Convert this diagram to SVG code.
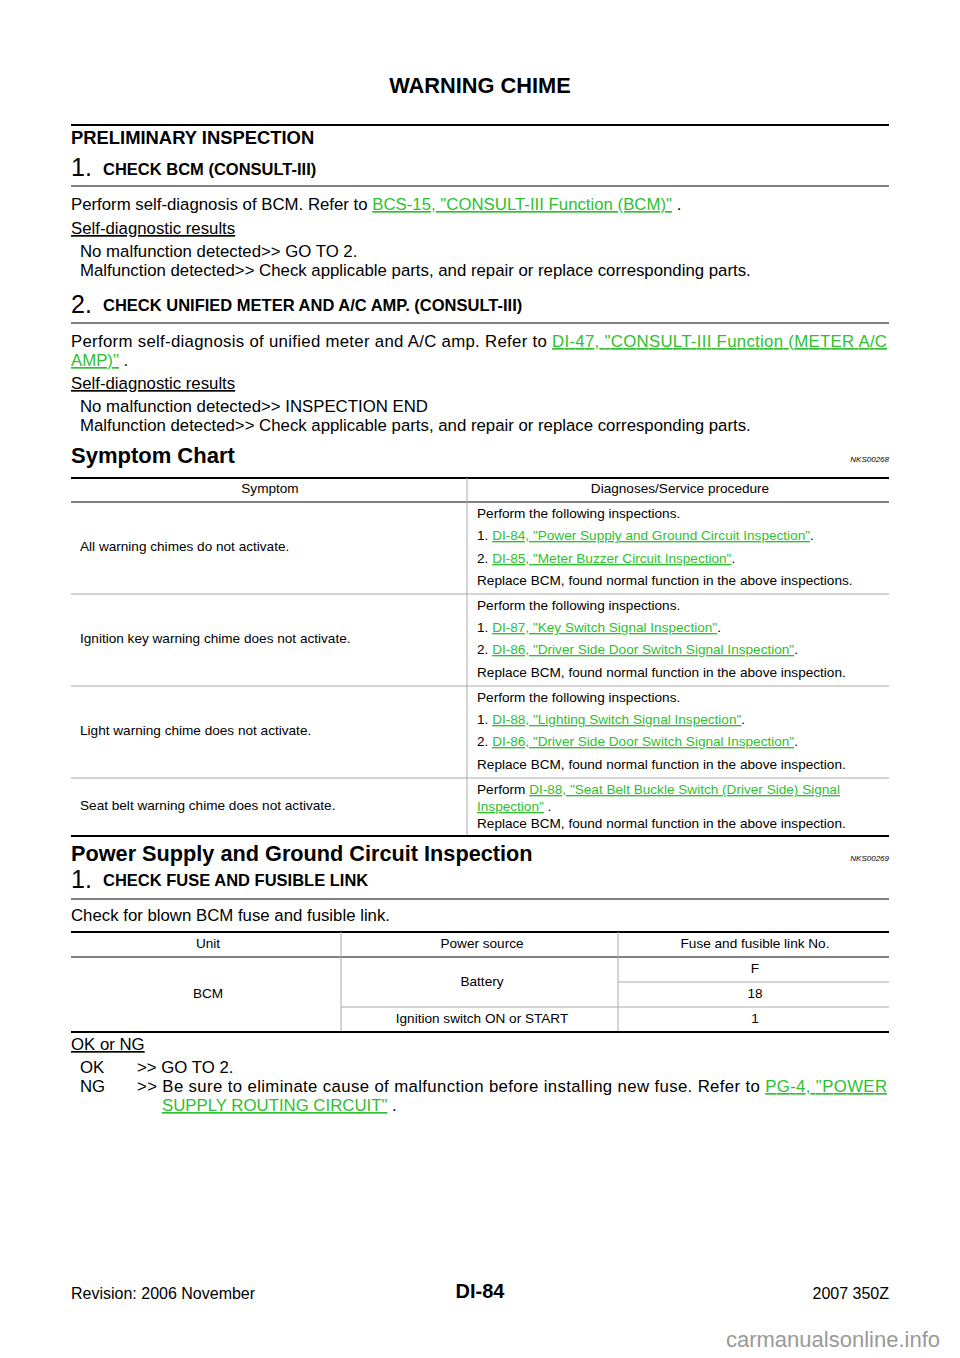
<svg xmlns="http://www.w3.org/2000/svg" width="960" height="1358" viewBox="0 0 960 1358">
<style>
text{font-family:"Liberation Sans",Arial,sans-serif;fill:#000}
.b{font-weight:bold}
.t16{font-size:16.8px}
.t13{font-size:13.6px}
.lk{fill:#2fbf2f;text-decoration:underline}
.u{text-decoration:underline}
.mid{text-anchor:middle}
.thick{stroke:#000;stroke-width:2}
.thin{stroke:#000;stroke-width:1}
.grey{stroke:#aaa;stroke-width:1}
.sm{font-size:8px;font-style:italic;text-anchor:end}
.st{font-weight:bold;font-size:16.5px}
.num{font-size:25px}
</style>
<rect width="960" height="1358" fill="#fff"/>
<text x="480" y="93" class="b mid" font-size="21.8">WARNING CHIME</text>
<line x1="71" y1="125" x2="889" y2="125" class="thick"/>
<text x="71" y="144" class="b" font-size="18.4">PRELIMINARY INSPECTION</text>
<text x="71" y="176" class="num">1.</text>
<text x="103" y="175" class="st">CHECK BCM (CONSULT-III)</text>
<line x1="71" y1="186" x2="889" y2="186" class="thin"/>
<text x="71" y="210" class="t16">Perform self-diagnosis of BCM. Refer to <tspan class="lk">BCS-15, "CONSULT-III Function (BCM)"</tspan> .</text>
<text x="71" y="234" class="t16 u">Self-diagnostic results</text>
<text x="80" y="257" class="t16">No malfunction detected&gt;&gt; GO TO 2.</text>
<text x="80" y="276" class="t16">Malfunction detected&gt;&gt; Check applicable parts, and repair or replace corresponding parts.</text>
<text x="71" y="313" class="num">2.</text>
<text x="103" y="311" class="st">CHECK UNIFIED METER AND A/C AMP.  (CONSULT-III)</text>
<line x1="71" y1="323" x2="889" y2="323" class="thin"/>
<text x="71" y="347" class="t16" textLength="816" lengthAdjust="spacing">Perform self-diagnosis of unified meter and A/C amp. Refer to <tspan class="lk">DI-47, "CONSULT-III Function (METER A/C</tspan></text>
<text x="71" y="366" class="t16"><tspan class="lk">AMP)"</tspan> .</text>
<text x="71" y="389" class="t16 u">Self-diagnostic results</text>
<text x="80" y="412" class="t16">No malfunction detected&gt;&gt; INSPECTION END</text>
<text x="80" y="431" class="t16">Malfunction detected&gt;&gt; Check applicable parts, and repair or replace corresponding parts.</text>
<text x="71" y="463" class="b" font-size="22">Symptom Chart</text>
<text x="889" y="462" class="sm">NKS00268</text>
<g id="symptom-table">
<line x1="71" y1="478" x2="889" y2="478" class="thick"/>
<line x1="71" y1="502" x2="889" y2="502" class="thin"/>
<line x1="467" y1="478" x2="467" y2="836" class="grey"/>
<line x1="71" y1="594" x2="889" y2="594" class="grey"/>
<line x1="71" y1="686" x2="889" y2="686" class="grey"/>
<line x1="71" y1="778" x2="889" y2="778" class="grey"/>
<line x1="71" y1="836" x2="889" y2="836" class="thick"/>
<text x="270" y="493" class="t13 mid">Symptom</text>
<text x="680" y="493" class="t13 mid">Diagnoses/Service procedure</text>
<text x="80" y="551" class="t13">All warning chimes do not activate.</text>
<text x="477" y="518" class="t13">Perform the following inspections.</text>
<text x="477" y="540" class="t13">1. <tspan class="lk">DI-84, "Power Supply and Ground Circuit Inspection"</tspan>.</text>
<text x="477" y="563" class="t13">2. <tspan class="lk">DI-85, "Meter Buzzer Circuit Inspection"</tspan>.</text>
<text x="477" y="585" class="t13">Replace BCM, found normal function in the above inspections.</text>
<text x="80" y="643" class="t13">Ignition key warning chime does not activate.</text>
<text x="477" y="610" class="t13">Perform the following inspections.</text>
<text x="477" y="632" class="t13">1. <tspan class="lk">DI-87, "Key Switch Signal Inspection"</tspan>.</text>
<text x="477" y="654" class="t13">2. <tspan class="lk">DI-86, "Driver Side Door Switch Signal Inspection"</tspan>.</text>
<text x="477" y="677" class="t13">Replace BCM, found normal function in the above inspection.</text>
<text x="80" y="735" class="t13">Light warning chime does not activate.</text>
<text x="477" y="702" class="t13">Perform the following inspections.</text>
<text x="477" y="724" class="t13">1. <tspan class="lk">DI-88, "Lighting Switch Signal Inspection"</tspan>.</text>
<text x="477" y="746" class="t13">2. <tspan class="lk">DI-86, "Driver Side Door Switch Signal Inspection"</tspan>.</text>
<text x="477" y="769" class="t13">Replace BCM, found normal function in the above inspection.</text>
<text x="80" y="810" class="t13">Seat belt warning chime does not activate.</text>
<text x="477" y="794" class="t13">Perform <tspan class="lk">DI-88, "Seat Belt Buckle Switch (Driver Side) Signal </tspan></text>
<text x="477" y="811" class="t13"><tspan class="lk">Inspection"</tspan> .</text>
<text x="477" y="828" class="t13">Replace BCM, found normal function in the above inspection.</text>
</g>
<text x="71" y="861" class="b" font-size="21.7">Power Supply and Ground Circuit Inspection</text>
<text x="889" y="861" class="sm">NKS00269</text>
<text x="71" y="888" class="num">1.</text>
<text x="103" y="886" class="st">CHECK FUSE AND FUSIBLE LINK</text>
<line x1="71" y1="899" x2="889" y2="899" class="thin"/>
<text x="71" y="921" class="t16">Check for blown BCM fuse and fusible link.</text>
<g id="fuse-table">
<line x1="71" y1="932" x2="889" y2="932" class="thick"/>
<line x1="71" y1="957" x2="889" y2="957" class="thin"/>
<line x1="341" y1="932" x2="341" y2="1032" class="grey"/>
<line x1="618" y1="932" x2="618" y2="1032" class="grey"/>
<line x1="618" y1="982" x2="889" y2="982" class="grey"/>
<line x1="341" y1="1007" x2="889" y2="1007" class="grey"/>
<line x1="71" y1="1032" x2="889" y2="1032" class="thick"/>
<text x="208" y="948" class="t13 mid">Unit</text>
<text x="482" y="948" class="t13 mid">Power source</text>
<text x="755" y="948" class="t13 mid">Fuse and fusible link No.</text>
<text x="208" y="998" class="t13 mid">BCM</text>
<text x="482" y="986" class="t13 mid">Battery</text>
<text x="755" y="973" class="t13 mid">F</text>
<text x="755" y="998" class="t13 mid">18</text>
<text x="482" y="1023" class="t13 mid">Ignition switch ON or START</text>
<text x="755" y="1023" class="t13 mid">1</text>
</g>
<text x="71" y="1050" class="t16 u">OK or NG</text>
<text x="80" y="1073" class="t16">OK</text>
<text x="137" y="1073" class="t16">&gt;&gt; GO TO 2.</text>
<text x="80" y="1092" class="t16">NG</text>
<text x="137" y="1092" class="t16" textLength="750" lengthAdjust="spacing">&gt;&gt; Be sure to eliminate cause of malfunction before installing new fuse. Refer to <tspan class="lk">PG-4, "POWER</tspan></text>
<text x="162" y="1111" class="t16"><tspan class="lk">SUPPLY ROUTING CIRCUIT"</tspan> .</text>
<text x="71" y="1299" font-size="16">Revision: 2006 November</text>
<text x="480" y="1298" class="b mid" font-size="20">DI-84</text>
<text x="889" y="1299" font-size="16" text-anchor="end">2007 350Z</text>
<text x="940" y="1347" font-size="22" text-anchor="end" style="fill:#999">carmanualsonline.info</text>
</svg>
